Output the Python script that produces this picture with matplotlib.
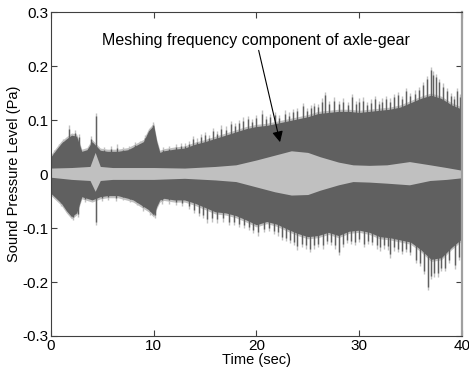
import matplotlib
matplotlib.use("Agg")
import matplotlib.pyplot as plt

plt.rcParams['font.family'] = ['Liberation Sans', 'DejaVu Sans']

# envelope of the dense part of the signal, seconds / Pa
t_env = [0, 0.5, 1, 1.5, 2, 2.5, 3, 3.5, 4, 4.8, 5.5, 6.5, 7.5, 8, 9, 9.5, 10,
         10.3, 10.6, 11, 12, 13, 14, 15, 16, 17, 18, 19, 20, 21, 22, 23, 24,
         25, 26, 27, 28, 29, 30, 31, 32, 33, 34, 35, 36, 37, 38, 39, 40]
upper = [0.032, 0.045, 0.057, 0.065, 0.072, 0.070, 0.042, 0.045, 0.060, 0.044,
         0.042, 0.042, 0.045, 0.050, 0.060, 0.080, 0.090, 0.060, 0.040, 0.043,
         0.046, 0.048, 0.055, 0.060, 0.066, 0.072, 0.078, 0.084, 0.088, 0.090,
         0.094, 0.098, 0.102, 0.106, 0.112, 0.114, 0.116, 0.116, 0.114, 0.116,
         0.118, 0.120, 0.124, 0.132, 0.140, 0.146, 0.140, 0.128, 0.120]
lower = [-0.036, -0.045, -0.054, -0.068, -0.079, -0.072, -0.042, -0.045, -0.048,
         -0.042, -0.040, -0.040, -0.045, -0.048, -0.060, -0.066, -0.076, -0.060,
         -0.048, -0.045, -0.048, -0.048, -0.054, -0.062, -0.070, -0.072, -0.077,
         -0.085, -0.094, -0.088, -0.093, -0.102, -0.110, -0.116, -0.114, -0.108,
         -0.114, -0.106, -0.104, -0.108, -0.116, -0.118, -0.122, -0.126, -0.140,
         -0.158, -0.155, -0.136, -0.120]

# meshing frequency component (light band)
t_mesh = [0, 2, 3.8, 4.3, 4.8, 6, 8, 10, 13, 16, 18, 20, 21.8, 23.4, 25, 26.2,
          28, 29.4, 31, 32.7, 34.9, 36.9, 38.5, 40]
mesh_up = [0.011, 0.012, 0.014, 0.040, 0.014, 0.012, 0.012, 0.012, 0.011, 0.014,
           0.017, 0.026, 0.035, 0.043, 0.040, 0.032, 0.022, 0.017, 0.016, 0.017,
           0.023, 0.017, 0.012, 0.007]
mesh_lo = [-0.006, -0.010, -0.012, -0.032, -0.012, -0.010, -0.010, -0.010,
           -0.008, -0.011, -0.014, -0.024, -0.033, -0.039, -0.038, -0.030,
           -0.020, -0.014, -0.015, -0.017, -0.020, -0.012, -0.010, -0.007]

# peaks sticking out of the envelope
spk_up_t = [0.3, 0.8, 1.2, 1.8, 2.3, 2.7, 3.9, 4.35, 5.2, 5.8, 6.4, 7.0, 7.6,
            8.2, 8.7, 9.2, 9.9, 10.9, 11.5, 12.2, 12.7,
            13.0, 13.4, 13.8, 14.2, 14.6, 15.0, 15.4, 15.8, 16.2, 16.6, 17.0,
            17.5, 17.9, 18.3, 18.7, 19.2, 19.6, 20.0, 20.5, 20.9, 21.3, 21.8,
            22.2, 22.8, 23.2, 23.6, 24.0, 24.5, 24.9, 25.3, 25.6, 26.0, 26.4,
            26.7, 27.1, 27.6, 28.0, 28.4, 28.9, 29.3, 29.7, 30.0, 30.4, 30.8,
            31.2, 31.5, 31.9, 32.2, 32.6, 33.0, 33.4, 33.8, 34.2, 34.6, 35.0,
            35.4, 35.8, 36.2, 36.6, 37.0, 37.2, 37.5, 37.8, 38.2, 38.6, 38.9,
            39.2, 39.5, 39.8]
spk_up_v = [0.045, 0.055, 0.065, 0.090, 0.082, 0.075, 0.070, 0.113, 0.050,
            0.052, 0.055, 0.050, 0.052, 0.060, 0.062, 0.072, 0.096, 0.050,
            0.052, 0.056, 0.058,
            0.058, 0.062, 0.070, 0.066, 0.075, 0.078, 0.072, 0.085, 0.080,
            0.090, 0.088, 0.098, 0.094, 0.100, 0.105, 0.108, 0.102, 0.110,
            0.118, 0.108, 0.112, 0.115, 0.110, 0.118, 0.114, 0.120, 0.122,
            0.132, 0.122, 0.128, 0.132, 0.130, 0.140, 0.152, 0.136, 0.142,
            0.136, 0.140, 0.134, 0.148, 0.136, 0.140, 0.142, 0.134, 0.138,
            0.145, 0.136, 0.140, 0.145, 0.140, 0.148, 0.152, 0.145, 0.160,
            0.150, 0.155, 0.162, 0.170, 0.182, 0.198, 0.190, 0.185, 0.176,
            0.168, 0.160, 0.150, 0.145, 0.160, 0.148]
spk_lo_t = [0.4, 1.0, 1.6, 2.1, 2.6, 3.3, 4.35, 5.0, 5.6, 6.3, 7.0, 7.7, 8.4,
            9.0, 9.6, 10.1, 10.8, 11.5, 12.2, 12.8, 13.4, 13.9, 14.4, 14.8,
            15.2, 15.7, 16.2, 16.7, 17.3, 17.8, 18.3, 18.8, 19.3, 19.7, 20.2,
            20.7, 21.2, 21.7, 22.1, 22.5, 22.9, 23.3, 23.7, 24.0, 24.4, 24.8,
            25.2, 25.6, 26.0, 26.5, 26.9, 27.3, 27.7, 28.0, 28.4, 28.8, 29.2,
            29.6, 30.0, 30.5, 30.9, 31.3, 31.7, 32.0, 32.4, 32.8, 33.0, 33.4,
            33.8, 34.2, 34.6, 35.0, 35.5, 35.9, 36.3, 36.7, 37.0, 37.3, 37.7,
            38.0, 38.4, 38.8, 39.3, 39.7]
spk_lo_v = [-0.045, -0.060, -0.070, -0.085, -0.080, -0.052, -0.094, -0.050,
            -0.048, -0.050, -0.048, -0.052, -0.058, -0.068, -0.075, -0.082,
            -0.055, -0.055, -0.058, -0.060, -0.065, -0.072, -0.078, -0.082,
            -0.090, -0.088, -0.090, -0.088, -0.094, -0.095, -0.098, -0.100,
            -0.104, -0.110, -0.114, -0.108, -0.106, -0.112, -0.114, -0.122,
            -0.124, -0.128, -0.132, -0.140, -0.136, -0.138, -0.145, -0.138,
            -0.135, -0.138, -0.130, -0.132, -0.138, -0.150, -0.136, -0.128,
            -0.130, -0.132, -0.126, -0.135, -0.130, -0.132, -0.138, -0.142,
            -0.138, -0.140, -0.155, -0.142, -0.145, -0.148, -0.145, -0.150,
            -0.165, -0.170, -0.185, -0.215, -0.195, -0.190, -0.190, -0.180,
            -0.180, -0.165, -0.175, -0.160]

dark = '#606060'
light = '#c0c0c0'

fig = plt.figure(figsize=(4.69, 3.73), dpi=100)
ax = fig.add_axes([0.1087, 0.0992, 0.876, 0.8686])

# light fringe, dark body, light meshing band on top
ax.fill_between(t_env, [v - 0.004 for v in lower], [v + 0.004 for v in upper],
                color=light, lw=0, zorder=1)
ax.vlines(spk_up_t, 0, spk_up_v, color=light, lw=1.0, zorder=1.5)
ax.vlines(spk_lo_t, spk_lo_v, 0, color=light, lw=1.0, zorder=1.5)
ax.fill_between(t_env, lower, upper, color=dark, lw=0, zorder=2)
ax.vlines(spk_up_t, 0, [v - 0.006 for v in spk_up_v], color=dark, lw=1.0,
          zorder=2.5)
ax.vlines(spk_lo_t, [v + 0.006 for v in spk_lo_v], 0, color=dark, lw=1.0,
          zorder=2.5)
ax.fill_between(t_mesh, mesh_lo, mesh_up, color=light, lw=0, zorder=3)

ax.annotate('Meshing frequency component of axle-gear', xy=(22.3, 0.059),
            xytext=(5.0, 0.248), fontsize=11.5, va='center', ha='left',
            zorder=5,
            arrowprops=dict(arrowstyle='-|>', color='black', lw=0.8,
                            mutation_scale=16, shrinkA=0, shrinkB=0))

ax.set_xlim(0, 40)
ax.set_ylim(-0.3, 0.3)
ax.set_xticks([0, 10, 20, 30, 40])
ax.set_yticks([-0.3, -0.2, -0.1, 0, 0.1, 0.2, 0.3])
ax.set_yticklabels(['-0.3', '-0.2', '-0.1', '0', '0.1', '0.2', '0.3'])
ax.tick_params(direction='in', top=True, right=True, labelsize=11, length=4,
               color='#404040', pad=2)
for s in ax.spines.values():
    s.set_color('#404040')
    s.set_linewidth(0.8)
    s.set_zorder(6)
ax.spines['right'].set_color('#a0a0a0')
ax.spines['right'].set_linewidth(1.6)
ax.set_xlabel('Time (sec)', fontsize=10.5, labelpad=0)
ax.set_ylabel('Sound Pressure Level (Pa)', fontsize=10.5, labelpad=1)

fig.savefig('out.png', dpi=100)
